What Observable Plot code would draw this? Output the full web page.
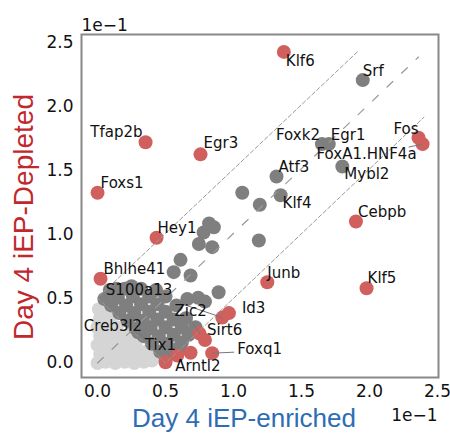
<!DOCTYPE html>
<html><head><meta charset="utf-8">
<script src="https://cdn.jsdelivr.net/npm/d3@7"></script>
<script src="https://cdn.jsdelivr.net/npm/@observablehq/plot@0.6"></script>
<style>body{margin:0;background:#fff;}</style>
</head><body><div id="chart"></div>
<script>
// ---- data (units of 1e-1) ----
const geneNames    = ["Klf6","Srf","Fos","FoxA1.HNF4a","Foxk2","Egr1","Mybl2","Atf3","Klf4","Tfap2b","Egr3","Foxs1","Cebpb","Hey1","Bhlhe41","Junb","Klf5","Id3","S100a13","Zic2","Sirt6","Foxq1","Arntl2","Tix1","Creb3l2"];
const geneEnriched = [1.37,1.95,2.36,2.39,1.65,1.70,1.80,1.316,1.346,0.353,0.757,0.00,1.90,0.434,0.022,1.248,1.978,0.966,0.917,0.75,0.79,0.843,0.586,0.30,0.35];
const geneDepleted = [2.43,2.21,1.76,1.71,1.71,1.71,1.535,1.457,1.31,1.725,1.63,1.33,1.105,0.978,0.658,0.631,0.584,0.39,0.355,0.23,0.18,0.077,0.059,0.24,0.30];
const geneGroup    = ["red","grey","red","red","grey","grey","grey","grey","grey","red","red","red","red","red","red","red","red","red","red","red","red","red","red","grey","grey"];

// unlabeled significant (red)
const redEnriched = [0.50,0.684];
const redDepleted = [0.006,0.08];

// unlabeled dark grey
const greyEnriched = [0.61,0.56,0.684,0.89,0.745,0.843,0.78,0.855,0.82,1.186,1.064,1.193,0.66,0.74,0.79,
  0.05,0.10,0.16,0.22,0.28,0.34,0.40,0.46,0.50,
  0.09,0.15,0.21,0.27,0.33,0.39,0.45,0.51,0.56,
  0.20,0.26,0.32,0.38,0.44,0.50,0.56,0.62,
  0.32,0.38,0.44,0.50,0.56,0.62,0.67,
  0.43,0.50,0.58,0.65,0.72,0.60,0.14,0.25];
const greyDepleted = [0.806,0.71,0.684,0.553,0.93,0.905,1.02,1.06,1.09,0.957,1.33,1.236,0.50,0.51,0.48,
  0.50,0.45,0.39,0.33,0.27,0.21,0.15,0.09,0.04,
  0.57,0.51,0.45,0.39,0.33,0.27,0.21,0.15,0.10,
  0.58,0.52,0.46,0.40,0.34,0.28,0.22,0.16,
  0.58,0.52,0.46,0.40,0.34,0.28,0.22,
  0.57,0.52,0.45,0.35,0.28,0.12,0.58,0.60];

// not significant (light grey)
const nsEnriched = [0.00,0.06,0.13,0.20,0.27,0.34,0.40,0.02,0.09,0.16,0.23,0.30,0.36,0.00,0.07,0.14,0.21,0.28,0.02,0.09,0.16,0.23,0.00,0.07,0.14,0.02,0.09,0.01,0.05];
const nsDepleted = [0.00,0.01,0.00,0.01,0.00,0.01,0.02,0.07,0.08,0.07,0.08,0.07,0.09,0.14,0.15,0.14,0.15,0.14,0.21,0.22,0.21,0.22,0.28,0.29,0.28,0.35,0.36,0.42,0.40];

// guide lines
const bandX = [1.91, 0, 0.5, 2.4];
const bandY = [2.43, 0.51, 0, 1.92];
const diagX = [0, 2.36];
const diagY = [0, 2.39];

const ticks = [0, 0.5, 1.0, 1.5, 2.0, 2.5];
const offsetLabel = "1e\u22121";
const xLabel = "Day 4 iEP-enriched";
const yLabel = "Day 4 iEP-Depleted";

// label placement (pixels): [anchor, dx, dy, leaderDx, leaderDy]
const labelPlacement = {
  "Klf6":["start",2,9], "Srf":["start",0,-9], "Fos":["end",0,-9],
  "FoxA1.HNF4a":["end",-6,10,-14,3], "Foxk2":["end",-2,-9], "Egr1":["start",2,-9],
  "Mybl2":["start",2,8], "Atf3":["start",2,-9], "Klf4":["start",2,8],
  "Tfap2b":["end",-3,-10], "Egr3":["start",3,-11], "Foxs1":["start",3,-10],
  "Cebpb":["start",2,-9], "Hey1":["start",1,-10], "Bhlhe41":["start",3,-10],
  "Junb":["start",0,-9], "Klf5":["start",1,-10], "Id3":["start",13,-5],
  "S100a13":["end",-50,-27,-50,-17], "Zic2":["middle",-9,-22,-7,-11],
  "Sirt6":["start",2,-9.5], "Foxq1":["start",25,-4,22,-1], "Arntl2":["start",-2,11],
  "Tix1":["start",6.5,13,9,8], "Creb3l2":["end",-3,2]
};

// ---- build ----
const genes = geneNames.map((n,i)=>({name:n, x:geneEnriched[i], y:geneDepleted[i], group:geneGroup[i]}));
const reds = redEnriched.map((x,i)=>({x, y:redDepleted[i]}));
const greys = greyEnriched.map((x,i)=>({x, y:greyDepleted[i]}));
const ns = nsEnriched.map((x,i)=>({x, y:nsDepleted[i]}));
const band = bandX.map((x,i)=>({x, y:bandY[i]}));
const diag = diagX.map((x,i)=>({x, y:diagY[i]}));

const W = 450, H = 433, ML = 81, MR = 12, MT = 34, MB = 56;
const xDom = [-0.118, 2.507], yDom = [-0.113, 2.566];
const kx = (W-ML-MR)/(xDom[1]-xDom[0]);
const ky = (H-MT-MB)/(yDom[1]-yDom[0]);

const RED = "#d0605e", GREY = "#7f7f7f", LIGHT = "#d5d5d5";

const labelMarks = genes.map(g => {
  const p = labelPlacement[g.name];
  return Plot.text([g], {x:"x", y:"y", text:"name", textAnchor:p[0], dx:p[1], dy:p[2],
    lineAnchor:"middle", fontSize:15, fill:"#111", fontFamily:"DejaVu Sans"});
});
const leaderMarks = genes.filter(g => labelPlacement[g.name].length > 3).map(g => {
  const p = labelPlacement[g.name];
  return Plot.link([g], {x1:"x", y1:"y", x2:d=>d.x + p[3]/kx, y2:d=>d.y - p[4]/ky,
    stroke:"#777", strokeWidth:1});
});

const chart = Plot.plot({
  width: W, height: H,
  marginLeft: ML, marginRight: MR, marginTop: MT, marginBottom: MB,
  style: {fontFamily: "DejaVu Sans", background: "#fff"},
  x: {domain: xDom, ticks: ticks, tickFormat: d3.format(".1f"), tickSize: 0, tickPadding: 7, label: null},
  y: {domain: yDom, ticks: ticks, tickFormat: d3.format(".1f"), tickSize: 0, tickPadding: 8, label: null},
  marks: [
    Plot.dot(ns, {x:"x", y:"y", r:7, fill:LIGHT}),
    Plot.dot(greys, {x:"x", y:"y", r:7, fill:GREY}),
    Plot.dot(genes.filter(g=>g.group==="grey"), {x:"x", y:"y", r:7, fill:GREY}),
    Plot.dot(reds, {x:"x", y:"y", r:7, fill:RED}),
    Plot.dot(genes.filter(g=>g.group==="red"), {x:"x", y:"y", r:7, fill:RED}),
    Plot.line(band, {x:"x", y:"y", stroke:"#999", strokeWidth:1, strokeDasharray:"4,2.5"}),
    Plot.line(diag, {x:"x", y:"y", stroke:"#999", strokeWidth:1.2, strokeDasharray:"8,12"}),
    ...leaderMarks,
    ...labelMarks,
    Plot.axisX({ticks, tickFormat:d3.format(".1f"), tickSize:0, tickPadding:7, fontSize:17, fill:"#111", label:null}),
    Plot.axisY({ticks, tickFormat:d3.format(".1f"), tickSize:0, tickPadding:8, fontSize:17, fill:"#111", label:null}),
    Plot.frame({stroke:"#888", strokeWidth:2}),
    Plot.text([offsetLabel], {frameAnchor:"top-left", text:d=>d, textAnchor:"start", lineAnchor:"middle", dy:-8.5, fontSize:17, fill:"#111"}),
    Plot.text([offsetLabel], {frameAnchor:"bottom-right", text:d=>d, textAnchor:"end", lineAnchor:"middle", dx:-1, dy:38, fontSize:17, fill:"#111"}),
    Plot.text([xLabel], {frameAnchor:"bottom", text:d=>d, textAnchor:"middle", lineAnchor:"middle", dx:-16, dy:41.4, fontSize:26, fill:"#2d6db3", fontFamily:"Liberation Sans"}),
    Plot.text([yLabel], {frameAnchor:"left", text:d=>d, rotate:-90, textAnchor:"middle", lineAnchor:"middle", dx:-57, dy:11, fontSize:28, fill:"#c0282e", fontFamily:"Liberation Sans"})
  ]
});
document.getElementById("chart").append(chart);
</script>
</body></html>
